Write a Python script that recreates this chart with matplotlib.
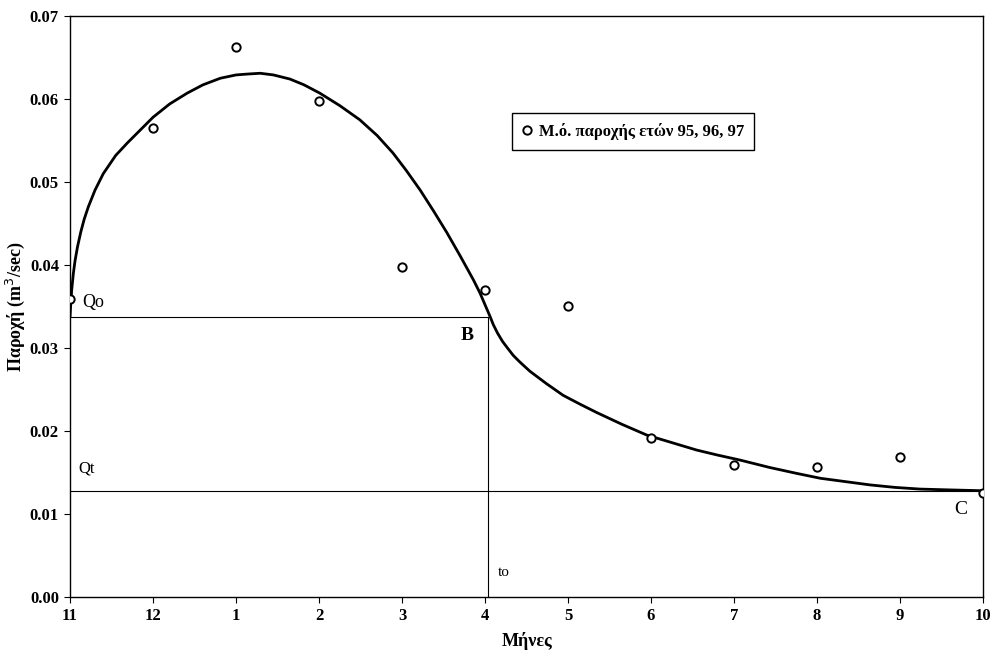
import matplotlib
matplotlib.use("Agg")
import matplotlib.pyplot as plt

plt.rcParams["font.family"] = ["Liberation Serif", "DejaVu Serif"]

# μήνες (υδρολογικό έτος Νοέ - Οκτ)
month_labels = ["11", "12", "1", "2", "3", "4", "5", "6", "7", "8", "9", "10"]
month_pos = list(range(12))

# μέση παροχή ετών 95, 96, 97 (m3/sec)
q_mean = [0.0359, 0.0565, 0.0663, 0.0598, 0.0398, 0.0370,
          0.0351, 0.0191, 0.0159, 0.0157, 0.0169, 0.0125]

# καμπύλη υδρογραφήματος (σημεία διαβασμένα από το σχήμα)
curve_x = [0.0, 0.01, 0.02, 0.04, 0.06, 0.09, 0.13, 0.17, 0.22, 0.3, 0.4,
           0.55, 0.69, 0.85, 1.0, 1.2, 1.41, 1.6, 1.81, 2.0, 2.13, 2.29,
           2.45, 2.65, 2.82, 3.01, 3.25, 3.49, 3.7, 3.89, 4.05, 4.22, 4.38,
           4.54, 4.7, 4.86, 4.94, 5.0, 5.06, 5.1, 5.15, 5.21, 5.27, 5.34,
           5.42, 5.54, 5.74, 5.94, 6.15, 6.35, 6.65, 6.95, 7.25, 7.55, 7.8,
           8.07, 8.43, 8.75, 9.04, 9.34, 9.64, 9.94, 10.24, 10.6, 11.0]
curve_y = [0.0338, 0.0356, 0.0370, 0.0390, 0.0405, 0.0422, 0.0440, 0.0455,
           0.0470, 0.0490, 0.0510, 0.0532, 0.0547, 0.0563, 0.0578, 0.0594,
           0.0607, 0.0617, 0.0625, 0.0629, 0.0630, 0.0631, 0.0629, 0.0624,
           0.0617, 0.0607, 0.0592, 0.0575, 0.0556, 0.0535, 0.0514, 0.0490,
           0.0465, 0.0439, 0.0411, 0.0382, 0.0366, 0.0352, 0.0338, 0.0328,
           0.0318, 0.0308, 0.0300, 0.0291, 0.0283, 0.0272, 0.0257, 0.0243,
           0.0232, 0.0222, 0.0208, 0.0195, 0.0186, 0.0177, 0.0171, 0.0165,
           0.0156, 0.0149, 0.0143, 0.0139, 0.0135, 0.0132, 0.0130, 0.0129,
           0.0128]

q0 = 0.0337     # Qo
qt = 0.0128     # Qt
t0 = 5.04       # to (σημείο B)

fig = plt.figure(figsize=(9.95, 6.53), dpi=100)
ax = fig.add_axes([0.0704, 0.0858, 0.9176, 0.8897])

ax.plot(curve_x, curve_y, color="black", lw=2.0, zorder=3,
        solid_joinstyle="round")
ax.plot(month_pos, q_mean, linestyle="none", marker="o", markersize=6,
        markerfacecolor="white", markeredgecolor="black", markeredgewidth=1.4,
        zorder=4, label="Μ.ό. παροχής ετών 95, 96, 97")

# βοηθητικές γραμμές
ax.plot([0, t0], [q0, q0], color="black", lw=0.8)
ax.plot([0, 11], [qt, qt], color="black", lw=0.8)
ax.plot([t0, t0], [0, q0], color="black", lw=0.8)

ax.text(0.15, 0.0355, "Qo", fontsize=13, va="center")
ax.text(4.7, 0.0315, "B", fontsize=14, fontweight="bold", va="center")
ax.text(0.1, 0.0155, "Qt", fontsize=12, va="center")
ax.text(5.15, 0.003, "to", fontsize=11, va="center")
ax.text(10.65, 0.0105, "C", fontsize=14, va="center")

ax.set_xlim(0, 11)
ax.set_ylim(0, 0.07)
ax.set_xticks(month_pos)
ax.set_xticklabels(month_labels)
ax.set_yticks([0.0, 0.01, 0.02, 0.03, 0.04, 0.05, 0.06, 0.07])
ax.set_yticklabels([f"{v:.2f}" for v in ax.get_yticks()])
for lbl in ax.get_xticklabels() + ax.get_yticklabels():
    lbl.set_fontweight("bold")
    lbl.set_fontsize(12)
ax.tick_params(axis="both", direction="out", length=4, width=0.8, pad=4)
for sp in ax.spines.values():
    sp.set_linewidth(1.0)

ax.set_xlabel("Μήνες", fontsize=13, fontweight="bold", labelpad=6)
ax.set_ylabel("Παροχή (m$^3$/sec)", fontsize=13, fontweight="bold", labelpad=2)

leg = ax.legend(loc="upper left", bbox_to_anchor=(0.4754, 0.848), fancybox=False,
                edgecolor="black", framealpha=1, handlelength=0.6,
                handletextpad=0.4, borderpad=0.6,
                prop={"weight": "bold", "size": 12})
leg.get_frame().set_linewidth(1.0)

fig.savefig("out.png", dpi=100)
